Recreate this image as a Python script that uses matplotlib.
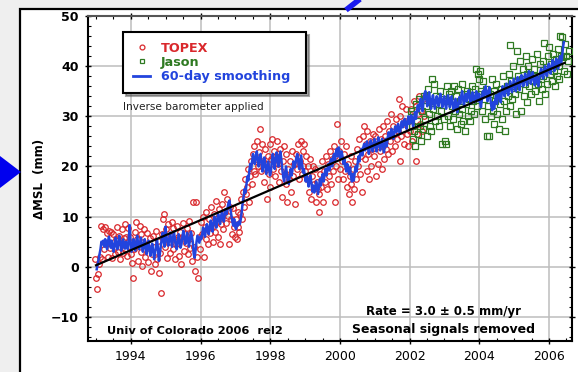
import numpy as np
import matplotlib
matplotlib.use("Agg")
import matplotlib.pyplot as plt
from matplotlib.lines import Line2D
from matplotlib.patches import Rectangle, Polygon

# ---------------- data ----------------
cycle_step_yr = 1.0 / 37.0          # ~10-day altimeter cycle

topex_start = 1992.98
topex_mm = [
    # 1993
    1.5, -2.3, -4.5, -1.5, 0.5, 2.0, 8.2, 1.5, 7.5, 3.5, 8.0, 4.5, 6.8, 2.0, 7.2, 5.0, 3.8, 7.0, 1.8, 6.5,
    4.0, 2.5, 5.5, 8.0, 3.0, 6.2, 1.5, 4.8, 7.5, 2.8, 5.8, 3.5, 8.5, 6.0, 2.2, 7.8, 4.2,
    # 1994
    6.0, 2.5, 0.8, -2.3, 3.5, 7.0, 9.0, 5.5, 1.2, 4.5, 8.2, 6.5, 3.0, 0.2, 5.0, 7.5, 2.0, 4.2, 6.8, 1.0,
    3.8, 5.8, -0.8, 2.5, 6.2, 4.0, 0.5, 7.2, 3.0, 1.5, 5.2, -1.2, 2.8, -5.2, 6.5, 9.5, 10.5,
    # 1995
    4.0, 7.5, 1.8, 8.5, 5.0, 2.8, 6.2, 9.0, 3.5, 7.8, 5.5, 1.5, 4.5, 8.2, 6.0, 2.2, 7.0, 0.5, 5.8, 8.8,
    3.2, 6.5, 4.8, 7.8, 2.5, 9.2, 5.5, 3.8, 6.8, 1.2, 13.0, 4.0, -0.8, 13.0, 2.0, -2.2, 6.0,
    # 1996
    3.5, 9.0, 6.5, 10.0, 2.0, 8.0, 5.5, 11.0, 7.5, 4.5, 9.5, 6.8, 12.0, 8.0, 5.0, 10.5, 7.0, 13.2, 9.0, 6.0,
    11.5, 4.5, 8.5, 12.5, 10.0, 7.5, 15.0, 11.0, 8.8, 13.5, 10.2, 4.5, 12.0, 9.5, 6.5, 11.8, 8.0,
    # 1997
    6.0, 9.5, 5.5, 8.0, 11.0, 7.0, 10.5, 13.5, 9.5, 15.0, 12.0, 17.5, 14.5, 16.0, 19.5, 13.0, 18.0, 21.0, 16.5, 22.5,
    19.0, 24.0, 18.5, 21.5, 25.0, 20.0, 22.8, 27.5, 19.0, 24.5, 21.0, 17.0, 23.5, 20.5, 13.5, 22.0, 18.5,
    # 1998
    24.5, 16.0, 21.5, 25.5, 19.5, 23.0, 18.0, 22.0, 25.0, 20.5, 17.0, 23.5, 19.0, 14.0, 21.0, 24.0, 18.5, 16.5, 22.5, 13.0,
    19.5, 17.5, 21.0, 15.0, 23.0, 18.0, 20.5, 12.5, 22.5, 19.5, 24.5, 17.5, 21.0, 25.0, 18.5, 20.0, 23.0,
    # 1999
    24.5, 19.0, 22.0, 17.5, 20.0, 15.0, 21.5, 13.5, 18.0, 20.0, 16.5, 19.5, 13.0, 17.0, 15.5, 11.0, 14.5, 18.5, 16.0, 21.0,
    13.0, 19.0, 17.0, 22.0, 15.5, 20.5, 18.0, 23.0, 16.5, 21.5, 19.0, 24.0, 13.0, 22.0, 20.0, 28.5, 17.5,
    # 2000
    23.0, 19.5, 25.0, 21.0, 17.5, 22.5, 19.0, 24.0, 16.0, 20.5, 14.5, 18.0, 22.0, 16.5, 13.0, 19.5, 15.5, 21.0, 17.5, 23.5,
    20.0, 25.5, 18.5, 22.0, 15.0, 26.0, 28.0, 21.5, 24.5, 19.0, 27.0, 22.5, 17.5, 25.0, 20.0, 23.5, 26.5,
    # 2001
    22.0, 26.0, 18.0, 24.5, 20.5, 27.5, 23.0, 25.5, 19.5, 24.0, 28.0, 21.5, 26.0, 23.5, 29.0, 22.5, 27.0, 25.0, 30.5, 23.0,
    28.0, 26.5, 24.0, 29.5, 25.5, 27.0, 33.5, 21.0, 30.0, 26.0, 32.0, 28.5, 24.5, 29.0, 31.5, 26.5, 24.0,
    # 2002
    29.0, 27.0, 31.5, 25.0, 30.0, 33.0, 28.0, 21.0, 32.0, 26.5, 30.5, 34.0, 28.5, 31.0, 27.0, 33.5, 30.0,
]

jason_start = 2002.03
jason_mm = [
    # 2002
    31.0, 28.0, 25.5, 30.5, 27.0, 24.0, 32.5, 29.0, 26.5, 33.5, 28.0, 25.0, 31.0, 27.5, 34.0, 29.5, 32.0, 26.0, 35.5, 30.5,
    28.0, 33.0, 27.0, 37.5, 31.5, 36.5, 29.0, 34.0, 30.0, 32.5, 28.0, 35.0, 31.0, 24.5, 33.5, 29.5, 25.0,
    # 2003
    24.5, 33.0, 36.0, 30.0, 34.5, 28.0, 35.0, 32.0, 29.5, 36.0, 31.0, 34.0, 27.5, 35.5, 30.5, 33.0, 28.5, 36.5, 31.5, 29.0,
    34.5, 27.0, 32.5, 35.0, 30.0, 33.5, 29.0, 31.0, 36.0, 33.0, 30.5, 35.5, 39.5, 32.0, 38.5, 34.5, 37.5,
    # 2004
    39.0, 35.0, 31.0, 37.0, 33.5, 29.5, 35.5, 26.0, 32.0, 26.0, 34.5, 30.0, 37.5, 31.0, 35.0, 28.5, 33.0, 36.5, 30.5, 34.0,
    27.5, 32.5, 35.5, 29.5, 38.0, 33.0, 27.0, 31.0, 36.0, 34.0, 38.5, 32.0, 44.2, 37.0, 33.5, 40.0, 36.0,
    # 2005
    34.5, 30.5, 43.0, 38.0, 35.5, 41.0, 31.0, 37.5, 39.5, 34.0, 36.5, 42.0, 38.5, 32.8, 40.0, 36.0, 38.5, 34.5, 41.5, 37.0,
    39.5, 35.0, 38.0, 42.5, 36.5, 33.0, 40.5, 37.5, 35.5, 41.0, 38.0, 44.6, 34.5, 39.5, 36.5, 42.0, 43.8,
    # 2006
    38.5, 40.5, 37.0, 42.5, 39.0, 36.0, 41.5, 38.0, 43.5, 40.0, 37.5, 46.0, 42.0, 45.8, 41.8, 39.0, 44.5, 42.0, 38.5, 41.0,
    43.0,
]

smooth_start = 1993.02
smooth_mm = [
    # 1993
    -0.5, 0.5, 1.5, 2.5, 3.5, 5.0, 4.5, 5.2, 4.0, 5.5, 4.8, 3.5, 5.0, 6.0, 4.5, 3.8, 5.2, 4.0, 3.0, 4.5,
    5.8, 4.2, 3.5, 5.0, 6.2, 4.8, 3.2, 4.5, 5.5, 4.0, 3.6, 5.0, 4.2, 3.5, 5.5, 8.3, 4.5,
    # 1994
    3.0, 4.2, 5.5, 4.0, 3.2, 5.0, 6.2, 4.5, 3.5, 4.8, 5.8, 4.2, 3.0, 4.5, 5.5, 3.8, 2.5, 4.0, 5.2, 3.6,
    2.2, 3.5, 4.6, 3.0, 1.5, 2.8, 4.2, 5.5, 3.8, 1.2, 2.5, 4.0, 5.5, 6.8, 5.2, 4.0, 8.0,
    # 1995
    6.2, 5.0, 4.2, 5.5, 6.8, 5.2, 4.0, 5.8, 7.0, 5.5, 4.2, 3.5, 5.0, 6.5, 5.2, 3.8, 4.5, 6.0, 7.2, 5.8,
    4.5, 5.5, 6.8, 5.2, 4.0, 5.5, 7.0, 6.2, 5.0, 2.5, 1.8, 3.5, 5.0, 6.2, 5.5, 4.8, 6.0,
    # 1996
    5.5, 6.5, 7.8, 6.8, 6.0, 7.5, 8.5, 7.2, 6.5, 8.0, 9.2, 8.0, 7.0, 8.8, 10.0, 9.0, 7.8, 9.5, 10.5, 9.2,
    8.5, 10.0, 11.0, 9.8, 9.0, 10.5, 11.5, 10.5, 11.8, 12.8, 13.2, 11.5, 10.2, 9.0, 8.2, 9.5, 8.0,
    # 1997
    7.5, 8.8, 8.2, 9.0, 8.5, 9.5, 11.0, 12.8, 14.0, 15.5, 14.8, 16.5, 18.0, 17.2, 19.0, 20.5, 19.5, 21.0, 22.5, 21.2,
    20.5, 22.0, 23.0, 21.5, 20.0, 21.5, 22.5, 21.0, 19.0, 20.5, 21.8, 20.2, 18.5, 19.8, 21.0, 19.5, 18.2,
    # 1998
    19.0, 21.0, 22.5, 21.0, 19.5, 21.5, 22.8, 21.5, 20.0, 22.0, 23.0, 21.5, 19.5, 18.0, 17.0, 18.5, 20.0, 18.5, 17.0, 16.5,
    18.0, 19.5, 18.2, 19.5, 21.0, 19.8, 20.5, 21.8, 22.5, 21.0, 19.5, 21.0, 22.2, 20.5, 18.8, 19.5, 18.0,
    # 1999
    17.0, 18.5, 17.2, 16.0, 17.5, 18.2, 16.5, 15.0, 16.2, 14.8, 15.5, 17.0, 15.8, 14.5, 16.0, 17.5, 16.2, 17.8, 18.5, 17.0,
    18.5, 19.5, 18.2, 19.5, 20.5, 19.2, 20.8, 21.5, 20.0, 21.8, 22.5, 21.0, 22.8, 23.5, 22.0, 23.8, 22.5,
    # 2000
    21.5, 23.0, 22.0, 20.5, 21.5, 20.0, 19.0, 20.5, 19.5, 18.5, 19.8, 18.0, 17.0, 18.5, 17.2, 18.8, 20.0, 19.0, 20.5, 22.0,
    21.0, 22.8, 23.5, 22.2, 23.8, 24.5, 23.2, 24.0, 25.0, 23.8, 22.5, 24.0, 25.2, 24.0, 23.0, 24.5, 25.5,
    # 2001
    24.2, 23.0, 24.5, 25.8, 24.5, 23.2, 24.8, 25.5, 24.0, 22.8, 24.2, 25.5, 24.0, 25.8, 26.8, 25.5, 26.5, 27.5, 26.2, 25.5,
    27.0, 28.0, 26.8, 27.5, 28.5, 27.2, 26.5, 28.0, 29.0, 27.8, 28.8, 29.5, 28.2, 27.5, 29.0, 30.0, 28.5,
    # 2002
    29.0, 30.2, 29.0, 28.0, 29.5, 30.8, 29.5, 31.0, 32.2, 31.0, 32.5, 33.5, 32.2, 31.0, 33.0, 34.5, 35.0, 33.5, 32.0, 33.8,
    34.8, 33.0, 31.5, 33.0, 34.2, 32.8, 31.5, 32.8, 34.0, 33.2, 32.0, 33.5, 34.5, 33.0, 31.8, 33.2, 34.0,
    # 2003
    32.5, 31.5, 33.0, 34.2, 33.0, 31.8, 33.0, 34.0, 32.5, 31.0, 32.2, 33.5, 32.0, 30.8, 32.5, 33.8, 32.5, 34.0, 35.0, 33.5,
    32.2, 33.8, 34.5, 33.0, 34.2, 35.2, 33.8, 32.5, 33.8, 34.8, 33.5, 32.8, 34.0, 35.0, 33.8, 33.0, 34.5,
    # 2004
    33.0, 31.8, 33.5, 35.0, 34.0, 35.5, 36.0, 34.2, 33.0, 35.0, 35.8, 33.5, 32.0, 31.2, 32.8, 31.5, 33.0, 34.2, 32.5, 33.8,
    35.0, 34.0, 32.8, 34.5, 36.0, 35.2, 34.0, 35.5, 36.5, 35.0, 34.2, 35.8, 37.0, 35.5, 34.8, 36.2, 37.5,
    # 2005
    36.0, 35.0, 36.5, 37.8, 36.5, 35.2, 37.0, 38.2, 37.0, 36.0, 37.5, 38.5, 37.2, 36.2, 37.8, 39.0, 37.8, 36.5, 38.0, 38.8,
    37.5, 36.2, 37.0, 38.2, 37.0, 36.0, 37.5, 38.8, 39.5, 38.2, 37.5, 39.0, 40.0, 38.8, 38.0, 39.5, 40.5,
    # 2006
    39.2, 38.5, 40.0, 41.2, 40.0, 39.0, 40.5, 41.5, 40.2, 39.5, 41.0, 42.0, 40.5, 41.5, 43.5, 44.8,
]

trend_years = [1993.0, 2006.45]
trend_mm = [0.3, 40.65]

x_ticks = [1994, 1996, 1998, 2000, 2002, 2004, 2006]
y_ticks = [-10, 0, 10, 20, 30, 40, 50]
legend_labels = ["TOPEX", "Jason", "60-day smoothing"]

topex_years = topex_start + cycle_step_yr * np.arange(len(topex_mm))
jason_years = jason_start + cycle_step_yr * np.arange(len(jason_mm))
smooth_years = smooth_start + cycle_step_yr * np.arange(len(smooth_mm))

# ---------------- figure ----------------
W, H = 578, 372
plt.rcParams["font.family"] = ["DejaVu Sans"]
fig = plt.figure(figsize=(W / 100, H / 100), dpi=100, facecolor="#efefef")


def fx(x):
    return x / W


def fy(y):
    return 1 - y / H


# white panel with black border (behind the axes)
fig.patches.append(Rectangle((fx(20), -0.05), 1.0, fy(9) + 0.05, transform=fig.transFigure,
                             facecolor="white", edgecolor="black", lw=1.6, zorder=-10))
# decorations of the surrounding slide
fig.patches.append(Polygon([(0, fy(156)), (fx(21), fy(172)), (0, fy(188))], closed=True,
                           transform=fig.transFigure, facecolor="#0000ee", edgecolor="none", zorder=-5))
fig.add_artist(Line2D([fx(346), fx(360)], [fy(10), fy(-1)], transform=fig.transFigure,
                      color="#1a1aee", lw=4, solid_capstyle="butt", zorder=-5))

ax = fig.add_axes([fx(88), fy(341), fx(572) - fx(88), fy(16) - fy(341)])
ax.set_zorder(5)
ax.set_facecolor("white")

red = "#d9282c"
green = "#2f7a22"
blue = "#2244dd"

ax.plot(topex_years, topex_mm, ls="none", marker="o", ms=4.0, mfc="none", mec=red, mew=0.9, zorder=3)
ax.plot(jason_years, jason_mm, ls="none", marker="s", ms=3.8, mfc="none", mec=green, mew=0.9, zorder=3)
ax.plot(smooth_years, smooth_mm, color=blue, lw=1.8, zorder=4)
ax.plot(trend_years, trend_mm, color="black", lw=1.6, zorder=5)

ax.set_xlim(1992.77, 2006.66)
ax.set_ylim(-14.8, 50)
ax.set_xticks(x_ticks)
ax.set_yticks(y_ticks)
ax.set_xticks(np.arange(1993, 2007, 0.5), minor=True)
ax.set_yticks(np.arange(-14, 51, 2), minor=True)
ax.grid(True, which="major", color="#bdbdbd", lw=1.1)
ax.set_axisbelow(True)
ax.tick_params(which="major", direction="inout", length=5, width=1, top=True, right=True,
               labelsize=9, pad=4)
ax.tick_params(which="minor", direction="in", length=2, width=0.8, top=True, right=True)
for lab in ax.get_yticklabels():
    lab.set_fontweight("bold")
for s in ax.spines.values():
    s.set_linewidth(1.5)
    s.set_color("black")
ax.spines["top"].set_color("#555555")

fig.text(fx(40), fy(179), "ΔMSL  (mm)", rotation=90, ha="center", va="center",
         fontsize=8.5, fontweight="bold")

handles = [
    Line2D([], [], ls="none", marker="o", ms=3.5, mfc="none", mec=red, mew=0.9),
    Line2D([], [], ls="none", marker="s", ms=3.2, mfc="none", mec=green, mew=0.9),
    Line2D([], [], color=blue, lw=2),
]
leg = ax.legend(handles, legend_labels, loc="upper left",
                bbox_to_anchor=((123 - 88) / 484, (341 - 32) / 325, 183 / 484, 0), mode="expand",
                borderaxespad=0, fancybox=False, shadow={"color": "#555555"}, framealpha=1,
                prop={"family": "DejaVu Sans", "weight": "bold", "size": 9.2},
                handlelength=1.4, handletextpad=0.8, labelspacing=0.1, borderpad=0.75)
leg.get_frame().set_edgecolor("black")
leg.get_frame().set_linewidth(1.5)
for txt, c in zip(leg.get_texts(), [red, green, blue]):
    txt.set_color(c)

ax.text((123 - 88) / 484, (341 - 107) / 325, "Inverse barometer applied", transform=ax.transAxes,
        ha="left", va="center", fontsize=7.6, color="#222222")
ax.text((107 - 88) / 484, (341 - 331) / 325, "Univ of Colorado 2006  rel2", transform=ax.transAxes,
        ha="left", va="center", fontsize=8.2, fontweight="bold")
ax.text((444 - 88) / 484, (341 - 312) / 325, "Rate = 3.0 ± 0.5 mm/yr", transform=ax.transAxes,
        ha="center", va="center", fontsize=8.5, fontweight="bold")
ax.text((444 - 88) / 484, (341 - 329) / 325, "Seasonal signals removed", transform=ax.transAxes,
        ha="center", va="center", fontsize=9.0, fontweight="bold")

fig.savefig("out.png", dpi=100, facecolor=fig.get_facecolor())
